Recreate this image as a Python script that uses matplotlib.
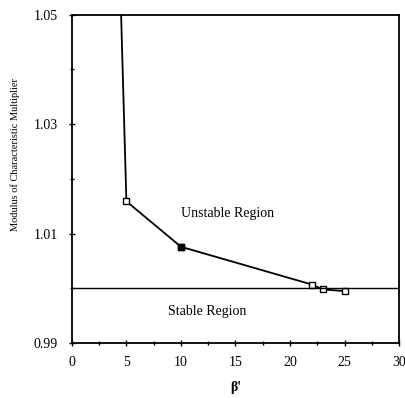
import numpy as np
import matplotlib.pyplot as plt
from matplotlib.ticker import MultipleLocator, FixedLocator

# values
beta = [4.5, 5.0, 10.0, 22.0, 23.0, 25.0]
modulus = [1.051, 1.0159, 1.0076, 1.0007, 0.9998, 0.9995]

plt.rcParams['font.family'] = ['Liberation Serif', 'DejaVu Serif']

fig = plt.figure(figsize=(4.06, 3.98), dpi=100)
ax = fig.add_axes([0.177, 0.138, 0.806, 0.825])

ax.plot(beta, modulus, '-', color='black', linewidth=1.3)
ax.plot(beta[1:], modulus[1:], 's', color='black', markerfacecolor='white',
        markersize=4, markeredgewidth=1.0)
ax.plot(beta[2], modulus[2], 's', color='black', markersize=4)
ax.axhline(1.0, color='black', linewidth=1.0)

ax.text(14.3, 1.0136, 'Unstable Region', ha='center', va='center', fontsize=10)
ax.text(12.4, 0.9957, 'Stable Region', ha='center', va='center', fontsize=10)

ax.set_xlim(0, 30)
ax.set_ylim(0.99, 1.05)
ax.xaxis.set_major_locator(MultipleLocator(5))
ax.xaxis.set_minor_locator(MultipleLocator(2.5))
ax.yaxis.set_major_locator(FixedLocator([0.99, 1.01, 1.03, 1.05]))
ax.yaxis.set_minor_locator(MultipleLocator(0.01))
ax.set_yticklabels(['0.99', '1.01', '1.03', '1.05'])
ax.tick_params(which='both', direction='inout', length=4, width=1, labelsize=10)
ax.tick_params(which='minor', length=3)
ax.tick_params(axis='y', which='major', pad=8)
ax.tick_params(axis='x', which='major', pad=7)
for s in ax.spines.values():
    s.set_linewidth(1.3)

ax.set_xlabel("β'", fontsize=10, fontweight='bold', labelpad=9)
ax.set_ylabel('Modulus of Characteristic Multiplier', fontsize=7.5, labelpad=10)
ax.yaxis.set_label_coords(-0.16, 0.573)

fig.savefig('out.png', dpi=100)
